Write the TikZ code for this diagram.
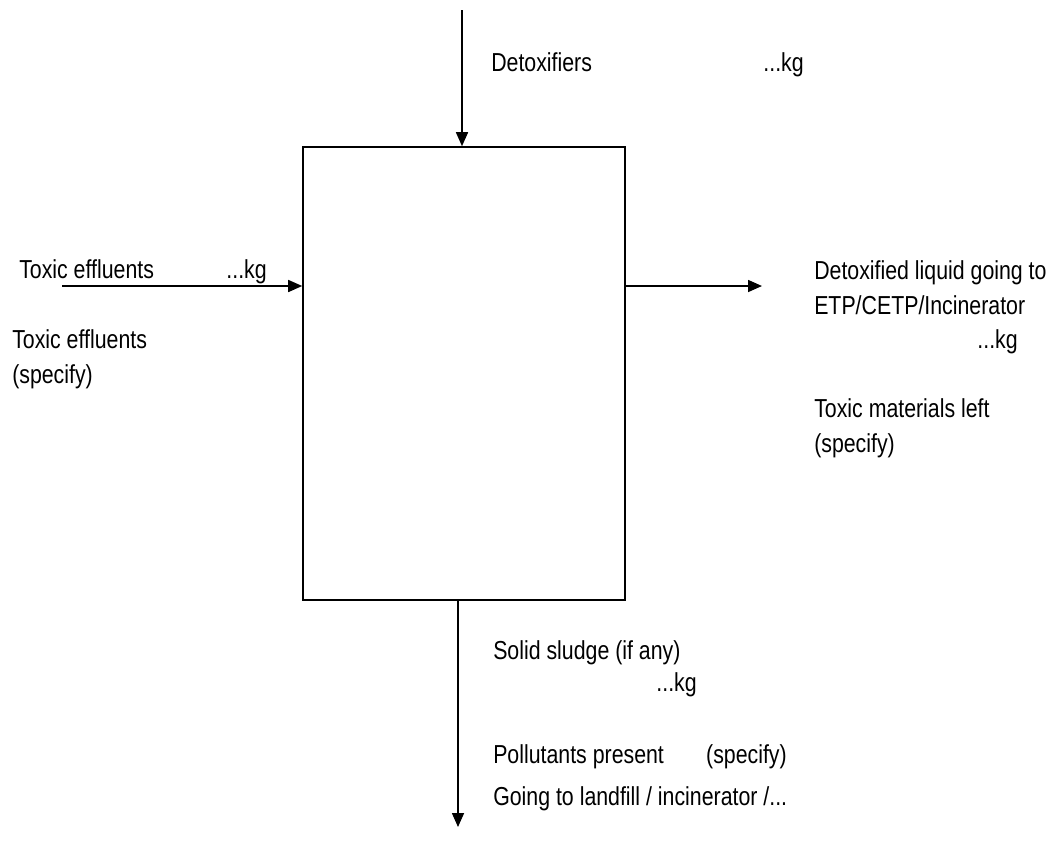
\documentclass[tikz,border=0pt]{standalone}
\usepackage{fontspec}
\setmainfont{Liberation Sans}[FakeStretch=0.82]
\usetikzlibrary{arrows.meta}
\begin{document}
\begin{tikzpicture}[x=0.75pt,y=-0.75pt,
  arr/.style={line width=1.2pt,-{Triangle[length=10.5pt,width=9pt]}},
  lbl/.style={anchor=base west,inner sep=0pt,font=\fontsize{19.5pt}{23pt}\selectfont},
  lblr/.style={anchor=base east,inner sep=0pt,font=\fontsize{19.5pt}{23pt}\selectfont}]
\useasboundingbox (0,0) rectangle (1056,850);
\node[draw,line width=1.2pt,inner sep=0pt,minimum width=241.5pt,minimum height=339.75pt] (box) at (464,373.5) {};
\coordinate (tin) at (462,10);
\coordinate (lin) at (62,286);
\coordinate (rout) at (762,286);
\coordinate (bout) at (458,827);
\draw[arr] (tin) -- (tin |- box.north);
\draw[arr] (lin) -- (lin -| box.west);
\draw[arr] (box.east |- rout) -- (rout);
\draw[arr] (box.south -| bout) -- (bout);
% top
\node[lbl] (detox) at (491,71) {Detoxifiers};
\node[lblr] (detoxkg) at (804,71) {...kg};
% left
\node[lbl] (te1) at (19,278) {Toxic effluents};
\node[lblr] (te1kg) at (267,278) {...kg};
\node[lbl] (te2) at (12,348) {Toxic effluents};
\node[lbl] (te3) at (12,383) {(specify)};
% right
\node[lbl] (dl1) at (814,279) {Detoxified liquid going to};
\node[lbl] (dl2) at (814,314) {ETP/CETP/Incinerator};
\node[lblr] (dlkg) at (1018,348) {...kg};
\node[lbl] (tm1) at (814,417) {Toxic materials left};
\node[lbl] (tm2) at (814,452) {(specify)};
% bottom
\node[lbl] (ss) at (493,659) {Solid sludge (if any)};
\node[lblr] (sskg) at (697,691) {...kg};
\node[lbl] (pp) at (493,763) {Pollutants present};
\node[lblr] (pps) at (787,763) {(specify)};
\node[lbl] (gl) at (493,805) {Going to landfill / incinerator /...};
\end{tikzpicture}
\end{document}
